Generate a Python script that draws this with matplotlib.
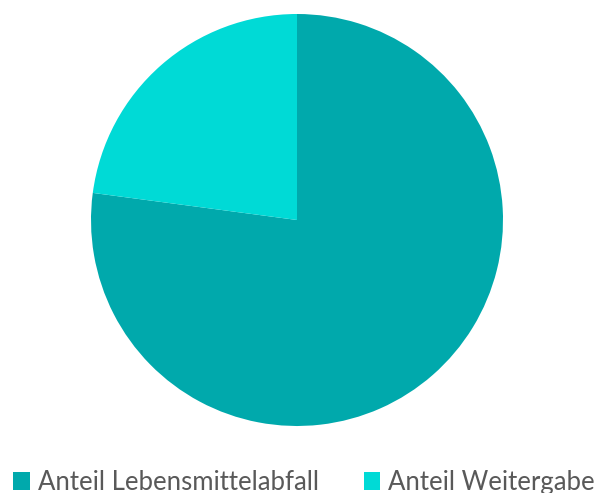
import matplotlib.pyplot as plt
from matplotlib.patches import Patch

labels = ['Anteil Lebensmittelabfall', 'Anteil Weitergabe']
values = [77.1, 22.9]
colors = ['#00A9AC', '#00DAD6']

W, H = 596, 493
fig = plt.figure(figsize=(W / 100, H / 100), dpi=100)

# pie center and radius in pixels
cx, cy, r = 297, 220, 206
ax = fig.add_axes([(cx - r) / W, 1 - (cy + r) / H, 2 * r / W, 2 * r / H])
ax.pie(values, colors=colors, startangle=90, counterclock=False,
       wedgeprops=dict(linewidth=0))
ax.set_xlim(-1, 1)
ax.set_ylim(-1, 1)
ax.set_aspect('equal')
ax.axis('off')

handles = [Patch(facecolor=c, edgecolor='none') for c in colors]
leg = fig.legend(handles, labels, loc='lower left', bbox_to_anchor=(0.005, -0.025),
                 ncol=2, frameon=False, prop={'family': ['Lato', 'DejaVu Sans'], 'size': 18.5},
                 handlelength=0.65, handleheight=0.65, handletextpad=0.3,
                 columnspacing=1.75, borderaxespad=0)
for t in leg.get_texts():
    t.set_color('#595959')

fig.savefig('out.png', dpi=100)
